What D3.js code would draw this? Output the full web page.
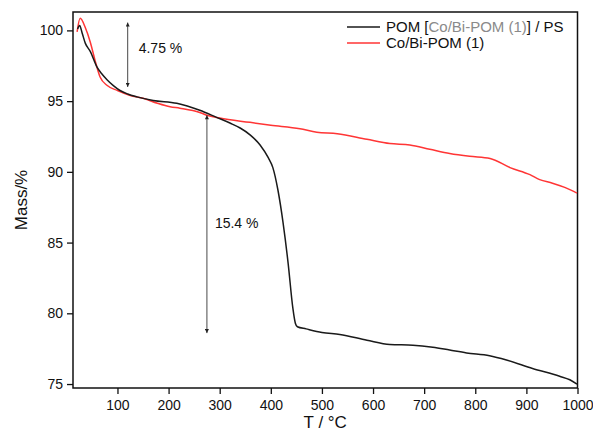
<!DOCTYPE html>
<html>
<head>
<meta charset="utf-8">
<script src="https://cdn.jsdelivr.net/npm/d3@7"></script>
<style>
  html, body { margin: 0; padding: 0; background: #fff; }
  svg { display: block; font-family: "Liberation Sans", Arial, sans-serif; }
</style>
</head>
<body>
<svg id="chart" width="593" height="434"></svg>
<script>
// TGA curves: temperature (°C) and residual mass (%)
const seriesNames = ["POM [Co/Bi-POM (1)] / PS", "Co/Bi-POM (1)"];
const seriesColors = ["#1a1a1a", "#ff3535"];

const compositeT = [22, 26, 31, 37, 47, 60, 70, 80, 92, 105, 120, 138, 170, 216, 261, 294, 320, 340, 360, 379, 395, 404, 414, 424, 434, 443, 448, 452, 469, 500, 535, 588, 633, 678, 717, 750, 783, 828, 861, 912, 965, 985, 999];
const compositeMass = [100.1, 100.35, 99.8, 99.1, 98.5, 97.4, 96.9, 96.5, 96.1, 95.75, 95.5, 95.3, 95.05, 94.85, 94.35, 93.85, 93.45, 93.1, 92.6, 91.9, 91.0, 90.3, 88.7, 86.4, 83.5, 80.4, 79.3, 79.05, 78.9, 78.65, 78.5, 78.1, 77.8, 77.75, 77.6, 77.4, 77.2, 77.0, 76.7, 76.1, 75.55, 75.3, 75.0];

const pomT = [21, 27, 37, 47, 56, 66, 80, 100, 125, 150, 178, 203, 222, 261, 275, 300, 359, 400, 457, 490, 530, 588, 633, 672, 711, 750, 789, 829, 868, 907, 926, 951, 975, 999];
const pomMass = [99.9, 100.85, 100.2, 99.15, 97.9, 96.7, 96.1, 95.75, 95.4, 95.2, 94.85, 94.6, 94.5, 94.2, 94.0, 93.8, 93.5, 93.3, 93.05, 92.8, 92.7, 92.3, 92.0, 91.9, 91.6, 91.3, 91.1, 90.95, 90.3, 89.8, 89.45, 89.2, 88.9, 88.5];

const xTicks = [100, 200, 300, 400, 500, 600, 700, 800, 900, 1000];
const xMinorTicks = [50, 150, 250, 350, 450, 550, 650, 750, 850, 950];
const yTicks = [75, 80, 85, 90, 95, 100];
const yMinorTicks = [77.5, 82.5, 87.5, 92.5, 97.5];

// Annotated mass-loss steps: [temperature, from mass, to mass, label]
const stepT = [120, 275];
const stepTop = [100.55, 94.0];
const stepBottom = [96.0, 78.6];
const stepLabels = ["4.75 %", "15.4 %"];

const svg = d3.select("#chart");
const m = { left: 73, right: 15.5, top: 12, bottom: 46 };
const W = 593, H = 434;

const x = d3.scaleLinear().domain([13, 1000]).range([m.left, W - m.right]);
const y = d3.scaleLinear().domain([74.72, 101.3]).range([H - m.bottom, m.top]);

const defs = svg.append("defs");
defs.append("marker")
  .attr("id", "head")
  .attr("viewBox", "0 0 10 10")
  .attr("refX", 10).attr("refY", 5)
  .attr("markerWidth", 7).attr("markerHeight", 4)
  .attr("markerUnits", "userSpaceOnUse")
  .attr("orient", "auto-start-reverse")
  .append("path").attr("d", "M0,0 L10,5 L0,10 z").attr("fill", "#222");

// Axes with outward major and minor ticks
const gx = svg.append("g").attr("transform", `translate(0,${H - m.bottom})`);
gx.call(d3.axisBottom(x).tickValues(xMinorTicks).tickSize(4).tickFormat(""));
gx.call(d3.axisBottom(x).tickValues(xTicks).tickSize(6).tickPadding(6).tickFormat(d3.format("d")));
const gy = svg.append("g").attr("transform", `translate(${m.left},0)`);
gy.call(d3.axisLeft(y).tickValues(yMinorTicks).tickSize(4).tickFormat(""));
gy.call(d3.axisLeft(y).tickValues(yTicks).tickSize(6).tickPadding(4).tickFormat(d3.format("d")));
svg.selectAll(".domain").remove();
svg.selectAll(".tick line").attr("stroke", "#111").attr("stroke-width", 1.3);
svg.selectAll(".tick text").attr("font-size", 14).attr("fill", "#111");

// Plot frame
svg.append("rect")
  .attr("x", m.left).attr("y", m.top)
  .attr("width", W - m.left - m.right).attr("height", H - m.top - m.bottom)
  .attr("fill", "none").attr("stroke", "#111").attr("stroke-width", 1.5);

const line = d3.line().x(d => x(d[0])).y(d => y(d[1])).curve(d3.curveMonotoneX);
const data = [d3.zip(compositeT, compositeMass), d3.zip(pomT, pomMass)];

// Draw the red curve first so the black one sits on top
[1, 0].forEach(i => {
  svg.append("path").datum(data[i])
    .attr("d", line)
    .attr("fill", "none")
    .attr("stroke", seriesColors[i])
    .attr("stroke-width", 1.5)
    .attr("stroke-linejoin", "round");
});

// Mass-loss arrows
stepT.forEach((t, i) => {
  svg.append("line")
    .attr("x1", x(t)).attr("x2", x(t))
    .attr("y1", y(stepTop[i])).attr("y2", y(stepBottom[i]))
    .attr("stroke", "#333").attr("stroke-width", 0.9)
    .attr("marker-start", "url(#head)").attr("marker-end", "url(#head)");
  svg.append("text")
    .attr("x", x(t) + (i === 0 ? 11 : 8))
    .attr("y", (y(stepTop[i]) + y(stepBottom[i])) / 2 + (i === 0 ? -2 : 4))
    .attr("font-size", 14).attr("fill", "#111")
    .text(stepLabels[i]);
});

// Legend
const legend = svg.append("g");
[0, 1].forEach(i => {
  const ly = 27 + i * 16;
  legend.append("line")
    .attr("x1", 347).attr("x2", 380).attr("y1", ly).attr("y2", ly)
    .attr("stroke", seriesColors[i]).attr("stroke-width", 1.3);
  const t = legend.append("text").attr("x", 386).attr("y", ly + 5)
    .attr("font-size", 15).attr("fill", "#111");
  if (i === 0) {
    t.append("tspan").text("POM [");
    t.append("tspan").attr("fill", "#8a8a8a").text("Co/Bi-POM (1)");
    t.append("tspan").text("] / PS");
  } else {
    t.text(seriesNames[1]);
  }
});

// Axis titles
svg.append("text")
  .attr("x", (m.left + W - m.right) / 2).attr("y", 428)
  .attr("text-anchor", "middle").attr("font-size", 17).attr("fill", "#111")
  .text("T / °C");
svg.append("text")
  .attr("transform", `translate(27,${(m.top + H - m.bottom) / 2}) rotate(-90)`)
  .attr("text-anchor", "middle").attr("font-size", 17).attr("fill", "#111")
  .text("Mass/%");
</script>
</body>
</html>
